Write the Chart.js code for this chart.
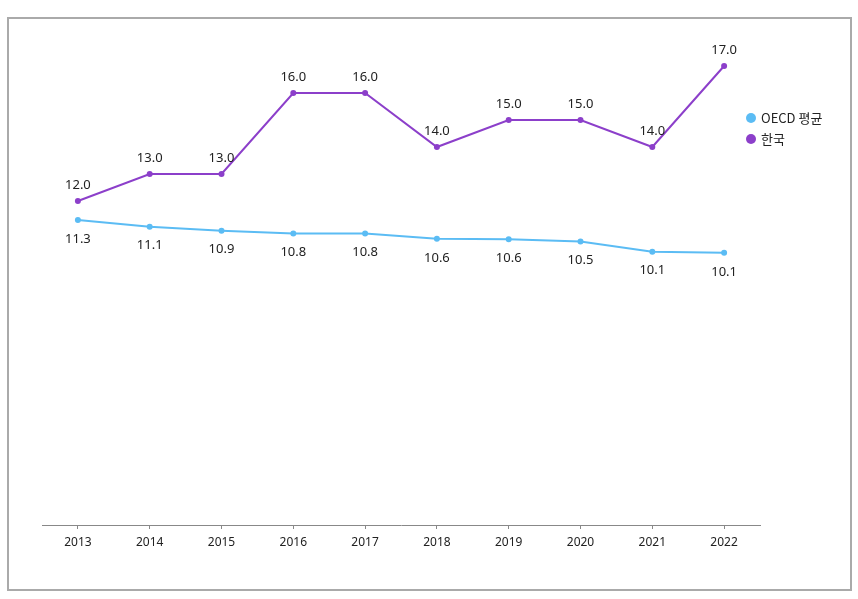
<!DOCTYPE html>
<html>
<head>
<meta charset="utf-8">
<script src="https://cdn.jsdelivr.net/npm/chart.js@4"></script>
<style>
  html, body { margin: 0; padding: 0; background: #fff; }
  #wrap { position: relative; width: 858px; height: 599px; }
  #frame { position: absolute; left: 7px; top: 17px; width: 841px; height: 570px; border: 2px solid #aaaaaa; pointer-events: none; }
  canvas { position: absolute; left: 0; top: 0; }
</style>
</head>
<body>
<div id="wrap">
  <canvas id="chartCanvas" width="858" height="599"></canvas>
  <div id="frame"></div>
</div>
<script>
/********** DATA **********/
const years = ["2013", "2014", "2015", "2016", "2017", "2018", "2019", "2020", "2021", "2022"];
const oecdValues = [11.3, 11.05, 10.9, 10.8, 10.8, 10.6, 10.58, 10.5, 10.12, 10.08];
const oecdLabels = ["11.3", "11.1", "10.9", "10.8", "10.8", "10.6", "10.6", "10.5", "10.1", "10.1"];
const koreaValues = [12.0, 13.0, 13.0, 16.0, 16.0, 14.0, 15.0, 15.0, 14.0, 17.0];
const koreaLabels = ["12.0", "13.0", "13.0", "16.0", "16.0", "14.0", "15.0", "15.0", "14.0", "17.0"];
const legendNames = ["OECD 평균", "한국"];

const blue = "#5bbcf4";
const purple = "#8c3fca";

// value labels: Korea above the point, OECD below
const valueLabels = {
  id: "valueLabels",
  afterDatasetsDraw(chart) {
    const ctx = chart.ctx;
    ctx.save();
    ctx.font = "13px 'Noto Sans', sans-serif";
    ctx.fillStyle = "#222";
    ctx.textAlign = "center";
    ctx.textBaseline = "middle";
    chart.data.datasets.forEach((ds, i) => {
      const meta = chart.getDatasetMeta(i);
      meta.data.forEach((pt, j) => {
        const dy = ds.labelSide === "above" ? -16 : 19;
        ctx.fillText(ds.labels[j], pt.x, pt.y + dy);
      });
    });
    ctx.restore();
  }
};

// legend on the right
const sideLegend = {
  id: "sideLegend",
  afterDraw(chart) {
    const ctx = chart.ctx;
    ctx.save();
    ctx.font = "13px 'Noto Sans CJK KR', 'Noto Sans', sans-serif";
    ctx.textBaseline = "middle";
    chart.data.datasets.forEach((ds, i) => {
      const y = 118 + i * 21;
      ctx.beginPath();
      ctx.arc(751, y, 5, 0, Math.PI * 2);
      ctx.fillStyle = ds.borderColor;
      ctx.fill();
      ctx.fillStyle = "#222";
      ctx.fillText(legendNames[i], 761, y);
    });
    ctx.restore();
  }
};

/********** CHART **********/
const ctx = document.getElementById("chartCanvas").getContext("2d");
new Chart(ctx, {
  type: "line",
  data: {
    labels: years,
    datasets: [
      {
        label: legendNames[0],
        data: oecdValues,
        labels: oecdLabels,
        labelSide: "below",
        borderColor: blue,
        backgroundColor: blue,
        borderWidth: 2,
        pointRadius: 3,
        pointBorderWidth: 0,
        tension: 0
      },
      {
        label: legendNames[1],
        data: koreaValues,
        labels: koreaLabels,
        labelSide: "above",
        borderColor: purple,
        backgroundColor: purple,
        borderWidth: 2,
        pointRadius: 3,
        pointBorderWidth: 0,
        tension: 0
      }
    ]
  },
  options: {
    responsive: false,
    animation: false,
    layout: { padding: { left: 42, right: 98, top: 39, bottom: 44 } },
    plugins: {
      legend: { display: false },
      tooltip: { enabled: false }
    },
    scales: {
      x: {
        offset: true,
        afterFit(scale) { scale.height = 30; },
        grid: { display: true, drawOnChartArea: false, tickLength: 4, color: "#888" },
        border: { color: "#888", width: 1 },
        ticks: { color: "#222", font: { size: 12, family: "'Noto Sans', sans-serif" }, padding: 6 }
      },
      y: {
        display: false,
        min: 0,
        max: 18
      }
    }
  },
  plugins: [valueLabels, sideLegend]
});
</script>
</body>
</html>
